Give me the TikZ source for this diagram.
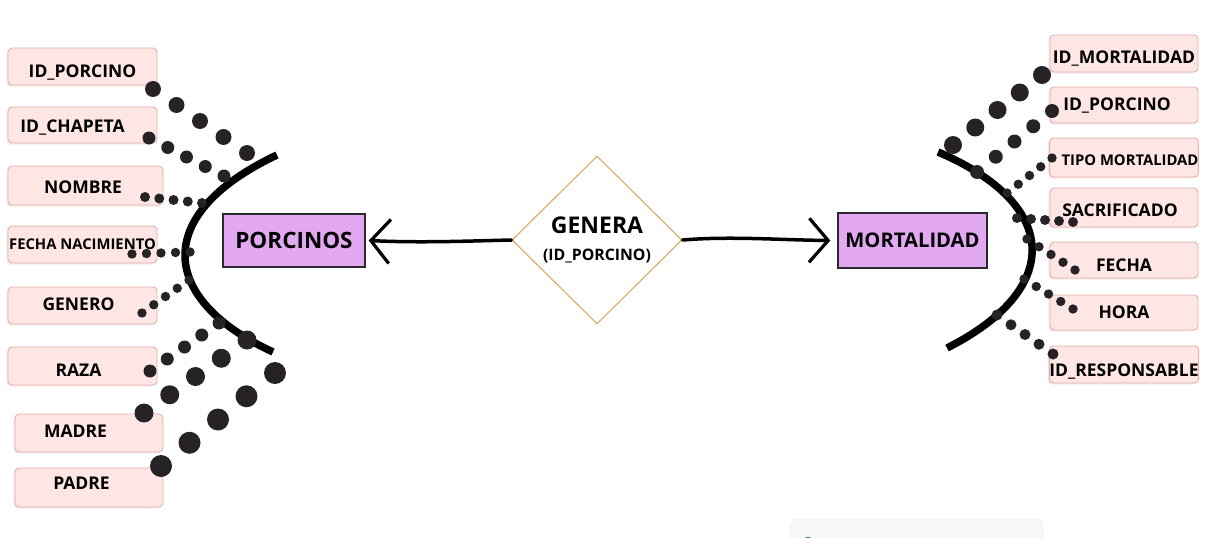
\documentclass[tikz,border=0pt]{standalone}
\usepackage{fontspec}
\setmainfont{Open Sans}
\usetikzlibrary{shapes.geometric,arrows.meta,calc,shadows}
\definecolor{attrfill}{RGB}{253,230,228}
\definecolor{attrdraw}{RGB}{226,176,174}
\definecolor{entfill}{RGB}{226,168,242}
\definecolor{entdraw}{RGB}{45,40,45}
\definecolor{reldraw}{RGB}{214,172,106}
\definecolor{dotc}{RGB}{38,34,38}
\tikzset{
  attrbox/.style={draw=attrdraw, fill=attrfill, rounded corners=4pt, line width=0.9pt,
    inner sep=0pt, text=black, font=\bfseries\fontsize{17.5}{19}\selectfont,
    text height=19pt, text depth=4pt,
    general shadow={fill=attrdraw!45, shadow xshift=-1.5pt, shadow yshift=-1.5pt, opacity=0.6}},
  smallattr/.style={font=\bfseries\fontsize{14.8}{16}\selectfont},
  entbox/.style={draw=entdraw, fill=entfill, line width=1.4pt, inner sep=0pt,
    font=\bfseries},
  relshape/.style={draw=reldraw, shape=diamond, aspect=1, line width=1.1pt, inner sep=0pt,
    minimum width=170pt, minimum height=168pt, align=center},
  relarrow/.style={line width=3.5pt, line cap=round, -{Straight Barb[length=19pt,width=44pt,line width=3.2pt]}},
  arcline/.style={line width=7.5pt, black},
  dotfill/.style={fill=dotc}
}
\begin{document}
\begin{tikzpicture}[x=1pt,y=-1pt]
\useasboundingbox[fill=white] (0,0) rectangle (1208,538);

% left attributes
\node[attrbox, minimum width=149pt, minimum height=37pt, text height=25pt] (pA) at (82.5,66.5) {ID\_PORCINO};
\node[attrbox, minimum width=149pt, minimum height=36pt] (pB) at (82.5,125) {\hspace*{-20pt}ID\_CHAPETA};
\node[attrbox, minimum width=155pt, minimum height=39pt] (pC) at (85.5,185.5) {\hspace*{-5pt}NOMBRE};
\node[attrbox, smallattr, minimum width=149pt, minimum height=37pt, text depth=9.4pt] (pD) at (82.5,244.5) {FECHA NACIMIENTO};
\node[attrbox, minimum width=149pt, minimum height=37pt, text depth=9.5pt] (pE) at (82.5,305.5) {\hspace*{-8pt}GENERO};
\node[attrbox, minimum width=149pt, minimum height=38pt, text height=24.5pt] (pF) at (82.5,366) {\hspace*{-8pt}RAZA};
\node[attrbox, minimum width=148pt, minimum height=38pt, text depth=10.5pt] (pG) at (89,433) {\hspace*{-27pt}MADRE};
\node[attrbox, minimum width=148pt, minimum height=39pt, text depth=15.5pt] (pH) at (89,487.5) {\hspace*{-15pt}PADRE};

% right attributes
\node[attrbox, minimum width=148pt, minimum height=37pt, text height=23.5pt] (mA) at (1124,53.5) {ID\_MORTALIDAD};
\node[attrbox, minimum width=148pt, minimum height=36pt, text depth=8.5pt] (mB) at (1124,105) {\hspace*{-14pt}ID\_PORCINO};
\node[attrbox, smallattr, minimum width=148pt, minimum height=39pt] (mC) at (1124,157.5) {\hspace*{12pt}TIPO MORTALIDAD};
\node[attrbox, minimum width=148pt, minimum height=39pt, text height=21.5pt] (mD) at (1124,207.5) {\hspace*{-8pt}SACRIFICADO};
\node[attrbox, minimum width=148pt, minimum height=36pt, text height=26.5pt] (mE) at (1124,260) {FECHA};
\node[attrbox, minimum width=148pt, minimum height=35pt, text depth=7.5pt] (mF) at (1124,312.5) {HORA};
\node[attrbox, minimum width=148pt, minimum height=37pt, text height=27.5pt] (mG) at (1124,364.5) {ID\_RESPONSABLE};

% entities and relationship
\node[entbox, minimum width=142pt, minimum height=53pt, font=\bfseries\fontsize{22.5}{25}\selectfont] (porc) at (294,240.5) {PORCINOS};
\node[entbox, minimum width=149pt, minimum height=55pt, font=\bfseries\fontsize{20.2}{23}\selectfont] (mort) at (912.5,240.5) {MORTALIDAD};
\node[relshape, font=\bfseries\fontsize{23}{22}\selectfont] (gen) at (597,240)
  {GENERA\\[5pt]\fontsize{15.8}{22}\selectfont (ID\_PORCINO)};

\draw[relarrow] (gen.west) .. controls (470,241) and (420,243) .. ([xshift=3pt]porc.east);
\draw[relarrow] (gen.east) .. controls (730,236) and (780,240) .. ([xshift=-7pt]mort.west);

% arcs
\draw[arcline] (277,155) .. controls (150,215) and (160,300) .. (273,352);
\draw[arcline] (938,152) .. controls (1062,205) and (1062,290) .. (947,348);

% dotted connectors
\coordinate (dA1) at (153,89);  \coordinate (dA2) at (247,153);
\coordinate (dB1) at (149,138); \coordinate (dB2) at (224,176);
\coordinate (dC1) at (145,197); \coordinate (dC2) at (202,203);
\coordinate (dD1) at (132,254); \coordinate (dD2) at (190,252);
\coordinate (dE1) at (142,313); \coordinate (dE2) at (189,280);
\coordinate (dF1) at (150,371); \coordinate (dF2) at (219,323);
\coordinate (dG1) at (144,413); \coordinate (dG2) at (247,340);
\coordinate (dH1) at (161,466); \coordinate (dH2) at (275,373);
\coordinate (eA1) at (1042,75);  \coordinate (eA2) at (953,145);
\coordinate (eB1) at (1052,111); \coordinate (eB2) at (977,172);
\coordinate (eC1) at (1052,158); \coordinate (eC2) at (1007,193);
\coordinate (eD1) at (1073,222); \coordinate (eD2) at (1017,218);
\coordinate (eE1) at (1075,270); \coordinate (eE2) at (1027,239);
\coordinate (eF1) at (1073,309); \coordinate (eF2) at (1024,279);
\coordinate (eG1) at (1053,354); \coordinate (eG2) at (997,315);
\foreach \s/\e/\r in {dA1/dA2/8, dB1/dB2/6.5, dC1/dC2/5, dD1/dD2/4.7, dE1/dE2/4.7,
  dF1/dF2/6.5, dG1/dG2/9.5, dH1/dH2/11, eA1/eA2/9, eB1/eB2/7, eC1/eC2/4.7,
  eD1/eD2/5, eE1/eE2/4.7, eF1/eF2/4.7, eG1/eG2/5.5}{
  \foreach \t in {0,0.25,0.5,0.75,1}{
    \fill[dotfill] ($(\s)!\t!(\e)$) circle[radius=\r];
  }
}

% partial panel at bottom edge
\begin{scope}
\clip (0,0) rectangle (1208,538);
\draw[fill=black!3, draw=black!9, rounded corners=8pt] (790,519) rectangle (1043,560);
\fill[green!45!black!80] (808,544) circle[radius=7];
\end{scope}
\end{tikzpicture}
\end{document}
